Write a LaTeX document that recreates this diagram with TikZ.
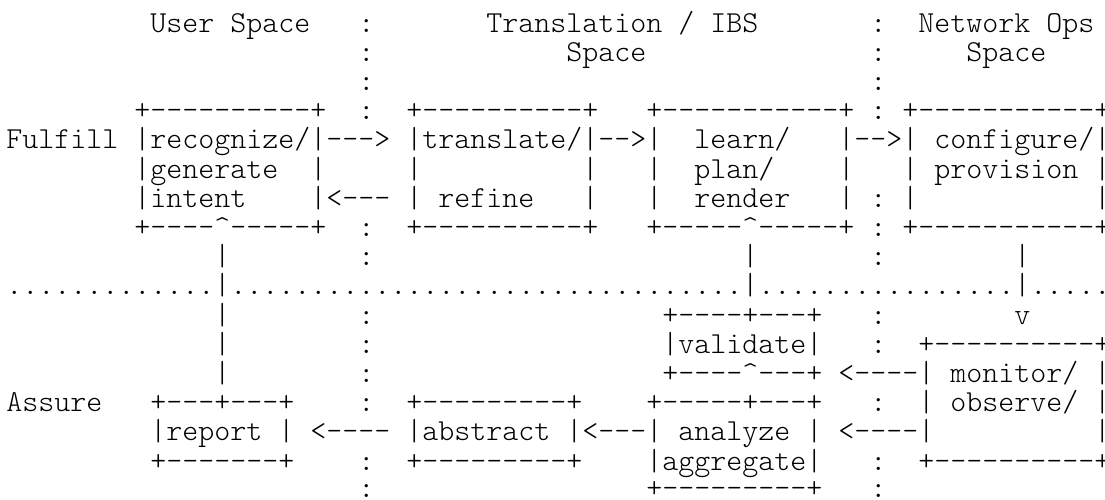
\documentclass[tikz,border=0pt]{standalone}
\usepackage{fontspec}
\setmonofont{Latin Modern Mono Light}
\newcommand\asp[1]{\kern\dimexpr 6pt*#1\relax}
\newcommand\cir{\char"5E\relax}
\tikzset{asciirow/.style={anchor=base west, inner sep=0pt, outer sep=0pt,
  font=\ttfamily\fontsize{11.4286}{11.4286}\selectfont\frenchspacing}}
\begin{document}
\begin{tikzpicture}[x=1pt,y=1pt]
\useasboundingbox (0,0) rectangle (414.375,-187.125);
\node[asciirow] (r0) at (2.4,-12) {\asp{9}User\asp{1}Space\asp{3}:\asp{7}Translation\asp{1}/\asp{1}IBS\asp{7}:\asp{2}Network\asp{1}Ops};
\node[asciirow] (r1) at (2.4,-22.95) {\asp{22}:\asp{12}Space\asp{14}:\asp{5}Space};
\node[asciirow] (r2) at (2.4,-33.9) {\asp{22}:\asp{31}:};
\node[asciirow] (r3) at (2.4,-44.85) {\asp{8}+----------+\asp{2}:\asp{2}+----------+\asp{3}+-----------+\asp{1}:\asp{1}+-----------+};
\node[asciirow] (r4) at (2.4,-55.8) {Fulfill\asp{1}|recognize/|--->\asp{1}|translate/|-->|\asp{2}learn/\asp{3}|-->|\asp{1}configure/|};
\node[asciirow] (r5) at (2.4,-66.75) {\asp{8}|generate\asp{2}|\asp{5}|\asp{10}|\asp{3}|\asp{2}plan/\asp{4}|\asp{3}|\asp{1}provision\asp{1}|};
\node[asciirow] (r6) at (2.4,-77.7) {\asp{8}|intent\asp{4}|<---\asp{1}|\asp{1}refine\asp{3}|\asp{3}|\asp{2}render\asp{3}|\asp{1}:\asp{1}|\asp{11}|};
\node[asciirow] (r7) at (2.4,-88.65) {\asp{8}+----\cir-----+\asp{2}:\asp{2}+----------+\asp{3}+-----\cir-----+\asp{1}:\asp{1}+-----------+};
\node[asciirow] (r8) at (2.4,-99.6) {\asp{13}|\asp{8}:\asp{23}|\asp{7}:\asp{8}|};
\node[asciirow] (r9) at (2.4,-110.55) {.............|................................|................|.....};
\node[asciirow] (r10) at (2.4,-121.5) {\asp{13}|\asp{8}:\asp{18}+----+---+\asp{3}:\asp{8}v};
\node[asciirow] (r11) at (2.4,-132.45) {\asp{13}|\asp{8}:\asp{18}|validate|\asp{3}:\asp{2}+----------+};
\node[asciirow] (r12) at (2.4,-143.4) {\asp{13}|\asp{8}:\asp{18}+----\cir---+\asp{1}<----|\asp{1}monitor/\asp{1}|};
\node[asciirow] (r13) at (2.4,-154.35) {Assure\asp{3}+---+---+\asp{4}:\asp{2}+---------+\asp{4}+-----+---+\asp{3}:\asp{2}|\asp{1}observe/\asp{1}|};
\node[asciirow] (r14) at (2.4,-165.3) {\asp{9}|report\asp{1}|\asp{1}<----\asp{1}|abstract\asp{1}|<---|\asp{1}analyze\asp{1}|\asp{1}<----|\asp{10}|};
\node[asciirow] (r15) at (2.4,-176.25) {\asp{9}+-------+\asp{4}:\asp{2}+---------+\asp{4}|aggregate|\asp{3}:\asp{2}+----------+};
\node[asciirow] (r16) at (2.4,-186.6) {\asp{22}:\asp{17}+---------+\asp{3}:};
\end{tikzpicture}
\end{document}
